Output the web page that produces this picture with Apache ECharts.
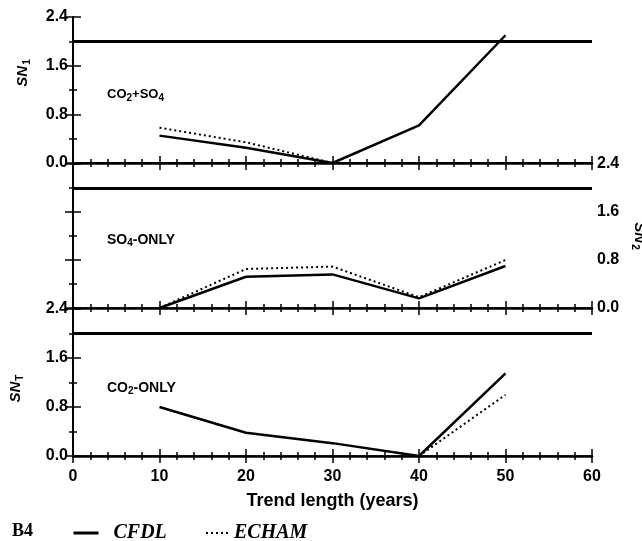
<!DOCTYPE html>
<html><head><meta charset="utf-8">
<script src="https://cdn.jsdelivr.net/npm/echarts@6/dist/echarts.min.js"></script>
<style>html,body{margin:0;padding:0;background:#fff}#c{width:642px;height:541px}</style>
</head><body><div id="c"></div>
<script>
// ---- data ----
const trendYears = [10, 20, 30, 40, 50];
const xTickStep = 10;
const yTickStep = 0.8;
const panelLabels = ['CO{s|2}+SO{s|4}', 'SO{s|4}-ONLY', 'CO{s|2}-ONLY'];
const axisSubs = ['1', '2', 'T'];
const cfdlCO2SO4 = [0.45, 0.25, 0.0, 0.62, 2.1];
const echamCO2SO4 = [0.58, 0.34, 0.0, null, null];
const cfdlSO4 = [0.0, 0.52, 0.56, 0.16, 0.70];
const echamSO4 = [0.0, 0.65, 0.69, 0.18, 0.80];
const cfdlCO2 = [0.80, 0.38, 0.21, 0.0, 1.35];
const echamCO2 = [null, null, null, 0.0, 1.0];
const threshold = 2.0;

const cfdlSets = [cfdlCO2SO4, cfdlSO4, cfdlCO2];
const echamSets = [echamCO2SO4, echamSO4, echamCO2];

// ---- layout ----
const SANS = '"Liberation Sans", Arial, Helvetica, sans-serif';
const SERIF = '"Liberation Serif", "Times New Roman", serif';
const grids = [
  {left: 73, width: 519, top: 17, height: 146, outerBoundsMode: 'none', containLabel: false},
  {left: 73, width: 519, top: 164, height: 144, outerBoundsMode: 'none', containLabel: false},
  {left: 73, width: 519, top: 309, height: 147, outerBoundsMode: 'none', containLabel: false}
];
const labelSide = ['left', 'right', 'left'];

const xAxes = [], yAxes = [], series = [];
grids.forEach((g, i) => {
  const base = {
    type: 'value', gridIndex: i, min: 0, max: 60, interval: xTickStep,
    splitLine: {show: false},
    minorTick: {show: true, splitNumber: 5, length: 4, lineStyle: {color: '#000', width: 1.5}},
    axisTick: {show: true, inside: true, length: 7, lineStyle: {color: '#000', width: 1.5}}
  };
  xAxes.push(Object.assign({}, base, {
    position: 'bottom',
    axisLine: {lineStyle: {color: '#000', width: 2.5}},
    axisLabel: {show: i === 2, color: '#000', fontSize: 16, fontWeight: 'bold', fontFamily: SANS, margin: 13},
    name: i === 2 ? 'Trend length (years)' : '',
    nameLocation: 'middle', nameGap: 36,
    nameTextStyle: {color: '#000', fontSize: 18, fontWeight: 'bold', fontFamily: SANS}
  }));
  xAxes.push(Object.assign({}, base, {
    position: 'top',
    axisLine: {lineStyle: {color: '#000', width: i === 0 ? 2 : 1.5}},
    axisLabel: {show: false}
  }));
  ['left', 'right'].forEach(side => {
    const labelled = side === labelSide[i];
    yAxes.push({
      type: 'value', gridIndex: i, position: side, min: 0, max: 2.4, interval: yTickStep,
      splitLine: {show: false},
      axisLine: {show: true, lineStyle: {color: '#000', width: 2}},
      axisTick: {show: true, inside: true, length: 8, lineStyle: {color: '#000', width: 1.5}},
      minorTick: {show: true, splitNumber: 2, length: 4, lineStyle: {color: '#000', width: 1.5}},
      axisLabel: {show: labelled, color: '#000', fontSize: 16, fontWeight: 'bold', fontFamily: SANS,
                  margin: 5, formatter: v => v.toFixed(1)},
      name: labelled ? '{s|SN}{b|' + axisSubs[i] + '}' : '',
      nameLocation: 'middle',
      nameGap: side === 'left' ? (i === 0 ? 41 : 48) : 38,
      nameRotate: side === 'left' ? 90 : -90,
      nameTextStyle: {
        color: '#000', fontFamily: SANS,
        padding: i === 0 ? [0, 0, 0, 34] : (i === 2 ? [0, 12, 0, 0] : 0),
        rich: {
          s: {fontSize: 15, fontWeight: 'bold', fontStyle: 'italic', fontFamily: SANS, color: '#000'},
          b: {fontSize: 10, fontWeight: 'bold', fontFamily: SANS, color: '#000', padding: [8, 0, 0, 1]}
        }
      }
    });
  });
  const yIdx = i * 2;
  series.push({
    name: 'CFDL', type: 'line', xAxisIndex: i * 2, yAxisIndex: yIdx,
    data: trendYears.map((x, k) => [x, cfdlSets[i][k]]),
    symbol: 'none', lineStyle: {color: '#000', width: 2.5}, itemStyle: {color: '#000'},
    markLine: {
      silent: true, symbol: 'none', label: {show: false},
      lineStyle: {color: '#000', width: 3, type: 'solid'},
      data: [{yAxis: threshold}]
    }
  });
  series.push({
    name: 'ECHAM', type: 'line', xAxisIndex: i * 2, yAxisIndex: yIdx,
    data: trendYears.map((x, k) => [x, echamSets[i][k]]),
    symbol: 'none', lineStyle: {color: '#000', width: 2, type: [2, 3]}, itemStyle: {color: '#000'}
  });
});

const graphics = grids.map((g, i) => ({
  type: 'text', left: 107, top: [88, 233, 381][i],
  style: {
    text: panelLabels[i], fill: '#000',
    font: 'bold ' + (i === 0 ? 13 : 14) + 'px ' + SANS,
    rich: {s: {fontSize: 10, fontWeight: 'bold', fontFamily: SANS, fill: '#000', padding: [7, 0, 0, 0]}}
  }
}));
graphics.push({
  type: 'text', left: 12, top: 522,
  style: {text: 'B4', fill: '#000', font: 'bold 18px ' + SERIF}
});

const legendText = {color: '#000', fontFamily: SERIF, fontStyle: 'italic', fontWeight: 'bold', fontSize: 20};
const chart = echarts.init(document.getElementById('c'));
chart.setOption({
  animation: false,
  backgroundColor: '#fff',
  grid: grids,
  xAxis: xAxes,
  yAxis: yAxes,
  legend: [
    {data: ['CFDL'], left: 72, top: 523, padding: 0, itemWidth: 25, itemHeight: 12,
     itemStyle: {opacity: 0}, lineStyle: {width: 3},
     textStyle: Object.assign({}, legendText, {padding: [0, 0, 0, 10]})},
    {data: ['ECHAM'], left: 205, top: 523, padding: 0, itemWidth: 25, itemHeight: 12,
     itemStyle: {opacity: 0},
     textStyle: Object.assign({}, legendText, {padding: [0, 0, 0, -2]})}
  ],
  graphic: graphics,
  series: series
});
</script></body></html>
